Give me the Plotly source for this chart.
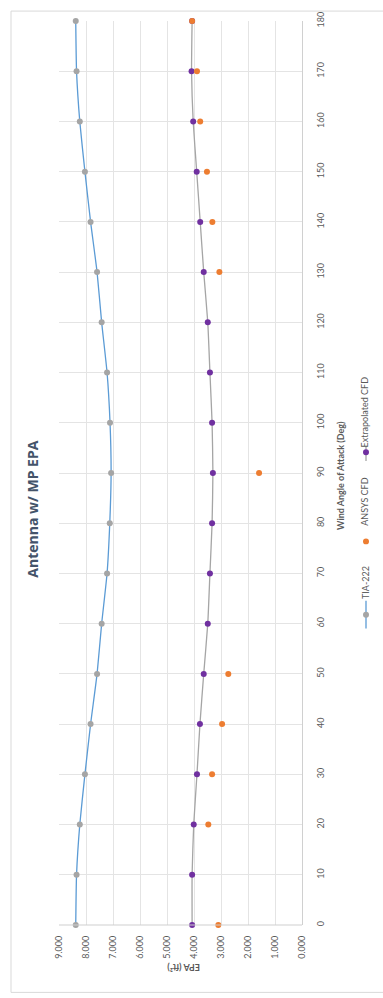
import plotly.graph_objects as go

# Wind angle of attack (deg) and effective projected area (ft^2)
angles = [0, 10, 20, 30, 40, 50, 60, 70, 80, 90, 100, 110, 120, 130, 140, 150, 160, 170, 180]
tia_222 = [8.38, 8.35, 8.23, 8.04, 7.83, 7.59, 7.42, 7.22, 7.12, 7.07,
           7.11, 7.22, 7.42, 7.59, 7.83, 8.04, 8.23, 8.35, 8.38]
extrap_cfd = [4.07, 4.07, 4.01, 3.89, 3.78, 3.64, 3.49, 3.41, 3.33, 3.30,
              3.33, 3.41, 3.49, 3.64, 3.77, 3.90, 4.03, 4.09, 4.07]
ansys_angles = [0, 20, 30, 40, 50, 90, 130, 140, 150, 160, 170, 180]
ansys_cfd = [3.10, 3.47, 3.33, 2.96, 2.73, 1.59, 3.06, 3.32, 3.52, 3.77, 3.89, 4.07]

epa_ticks = [9, 8, 7, 6, 5, 4, 3, 2, 1, 0]
angle_ticks = list(range(0, 181, 10))

W, H = 383, 998
L, R, T, B = 59, 302, 13, 925  # plot area in pixels


def px(x):
    return (x - L) / (R - L)


def py(y):
    return (B - y) / (B - T)


FONT = "Lato, 'Open Sans', sans-serif"
TITLE_FONT = "'Open Sans', Lato, sans-serif"
GREY_TXT = "#595959"
C_TIA_LINE = "#5B9BD5"
C_TIA_MK = "#A5A5A5"
C_ANSYS = "#ED7D31"
C_EXT = "#7030A0"
C_EXT_LINE = "#A5A5A5"
MK = 6

fig = go.Figure()

fig.add_trace(go.Scatter(
    x=tia_222, y=angles, mode="lines+markers", name="TIA-222",
    line=dict(color=C_TIA_LINE, width=1.3, shape="spline", smoothing=0.5),
    marker=dict(color=C_TIA_MK, size=MK), cliponaxis=False, showlegend=False))

fig.add_trace(go.Scatter(
    x=extrap_cfd, y=angles, mode="lines+markers", name="Extrapolated CFD",
    line=dict(color=C_EXT_LINE, width=1.3, shape="spline", smoothing=0.5),
    marker=dict(color=C_EXT, size=MK), cliponaxis=False, showlegend=False))

fig.add_trace(go.Scatter(
    x=ansys_cfd, y=ansys_angles, mode="markers", name="ANSYS CFD",
    marker=dict(color=C_ANSYS, size=MK), cliponaxis=False, showlegend=False))

shapes = []
annotations = []

# chart area frame
shapes.append(dict(type="rect", xref="paper", yref="paper",
                   x0=px(11), x1=px(392), y0=py(993), y1=py(3),
                   line=dict(color="#D9D9D9", width=1), fillcolor="rgba(0,0,0,0)",
                   layer="below"))

# bottom axis line (0 deg)
shapes.append(dict(type="line", xref="paper", yref="paper",
                   x0=0, x1=1, y0=0, y1=0,
                   line=dict(color="#CFCFCF", width=1)))

# title
annotations.append(dict(text="Antenna w/ MP EPA", x=px(33), y=py(506),
                        xref="paper", yref="paper", showarrow=False, textangle=-90,
                        xanchor="center", yanchor="middle",
                        font=dict(family=TITLE_FONT, size=14, color="#44546A",
                                  weight="bold")))

# angle axis title
annotations.append(dict(text="Wind Angle of Attack (Deg)", x=px(341), y=py(472),
                        xref="paper", yref="paper", showarrow=False, textangle=-90,
                        xanchor="center", yanchor="middle",
                        font=dict(family=FONT, size=9, color=GREY_TXT, weight="bold")))

# EPA axis title
annotations.append(dict(text="EPA (ft²)", x=px(184), y=py(968),
                        xref="paper", yref="paper", showarrow=False, textangle=180,
                        xanchor="center", yanchor="middle",
                        font=dict(family=FONT, size=9, color=GREY_TXT, weight="bold")))

# legend
LX = 366
# TIA-222
shapes.append(dict(type="line", xref="paper", yref="paper",
                   x0=px(LX), x1=px(LX), y0=py(598), y1=py(626),
                   line=dict(color=C_TIA_LINE, width=1.3)))
shapes.append(dict(type="circle", xref="paper", yref="paper",
                   x0=px(LX - 3), x1=px(LX + 3), y0=py(615), y1=py(609),
                   fillcolor=C_TIA_MK, line=dict(width=0)))
annotations.append(dict(text="TIA-222", x=px(LX - 1), y=py(580),
                        xref="paper", yref="paper", showarrow=False, textangle=-90,
                        xanchor="center", yanchor="middle",
                        font=dict(family=FONT, size=9, color=GREY_TXT)))
# ANSYS CFD
shapes.append(dict(type="circle", xref="paper", yref="paper",
                   x0=px(LX - 3), x1=px(LX + 3), y0=py(541), y1=py(535),
                   fillcolor=C_ANSYS, line=dict(width=0)))
annotations.append(dict(text="ANSYS CFD", x=px(LX - 1), y=py(498),
                        xref="paper", yref="paper", showarrow=False, textangle=-90,
                        xanchor="center", yanchor="middle",
                        font=dict(family=FONT, size=9, color=GREY_TXT)))
# Extrapolated CFD
shapes.append(dict(type="line", xref="paper", yref="paper",
                   x0=px(LX), x1=px(LX), y0=py(442), y1=py(457),
                   line=dict(color=C_EXT_LINE, width=1.3)))
shapes.append(dict(type="circle", xref="paper", yref="paper",
                   x0=px(LX - 3), x1=px(LX + 3), y0=py(451), y1=py(445),
                   fillcolor=C_EXT, line=dict(width=0)))
annotations.append(dict(text="Extrapolated CFD", x=px(LX - 1), y=py(408),
                        xref="paper", yref="paper", showarrow=False, textangle=-90,
                        xanchor="center", yanchor="middle",
                        font=dict(family=FONT, size=9, color=GREY_TXT)))

fig.update_layout(
    width=W, height=H,
    margin=dict(l=L, r=W - R, t=T, b=H - B, pad=0),
    paper_bgcolor="white", plot_bgcolor="white",
    font=dict(family=FONT, size=9, color=GREY_TXT),
    shapes=shapes, annotations=annotations,
    showlegend=False,
    xaxis=dict(range=[9, 0], tickvals=epa_ticks, tickformat=".3f", tickangle=-90,
               showgrid=True, gridcolor="#E4E4E4", gridwidth=1,
               zeroline=False, showline=False, ticks="",
               ticklabelstandoff=8,
               tickfont=dict(family=FONT, size=9, color=GREY_TXT)),
    yaxis=dict(range=[0, 180], tickvals=angle_ticks, tickangle=-90, side="right",
               showgrid=True, gridcolor="#E4E4E4", gridwidth=1,
               zeroline=False, showline=True, linecolor="#D0D0D0", mirror=False,
               ticks="", ticklabelstandoff=10,
               tickfont=dict(family=FONT, size=9, color=GREY_TXT)),
)

fig.write_html("out.html")
